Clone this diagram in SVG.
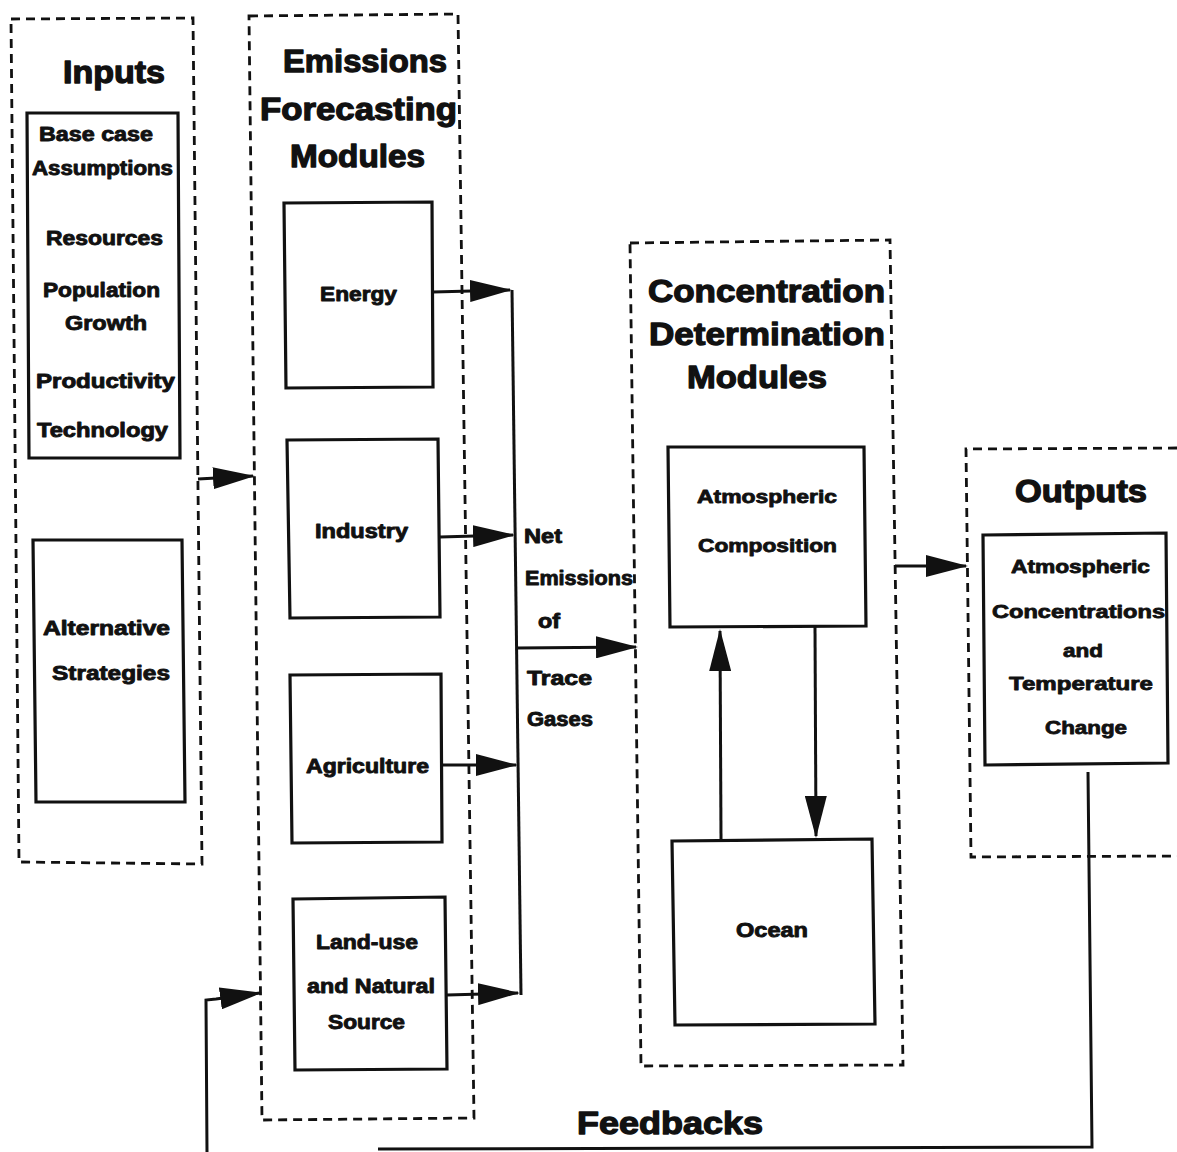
<svg xmlns="http://www.w3.org/2000/svg" width="1177" height="1152" viewBox="0 0 1177 1152">
<defs>
<style>
.bg{fill:#fff}
.dash{fill:none;stroke:#111;stroke-width:2.8;stroke-dasharray:9 6}
.box{fill:none;stroke:#111;stroke-width:3.2}
.con{fill:none;stroke:#111;stroke-width:3}
.t{font-family:"Liberation Sans",Arial,sans-serif;font-weight:700;fill:#111;stroke:#111;stroke-linejoin:round}
.title{font-size:32px;stroke-width:1.3}
.body{font-size:20px;stroke-width:0.9}
.small{font-size:18px;stroke-width:0.8}
</style>
<marker id="ah" markerUnits="userSpaceOnUse" markerWidth="44" markerHeight="22" viewBox="0 0 44 22" refX="40" refY="11" orient="auto">
<path d="M0,0 L42,11 L0,22 Z" fill="#111"/>
</marker>
</defs>
<rect class="bg" x="0" y="0" width="1177" height="1152"/>

<g id="inputs">
<path class="dash" d="M11,19 L193,18 L202,864 L19,862 Z"/>
<text class="t title" x="63" y="83" textLength="102" lengthAdjust="spacingAndGlyphs">Inputs</text>
<g id="base-case">
<path class="box" d="M27,113 L178,113 L180,458 L29,458 Z"/>
<text class="t body" x="39" y="141" textLength="114" lengthAdjust="spacingAndGlyphs">Base case</text>
<text class="t body" x="32" y="175" textLength="141" lengthAdjust="spacingAndGlyphs">Assumptions</text>
<text class="t body" x="46" y="245" textLength="117" lengthAdjust="spacingAndGlyphs">Resources</text>
<text class="t body" x="43" y="297" textLength="117" lengthAdjust="spacingAndGlyphs">Population</text>
<text class="t body" x="65" y="330" textLength="82" lengthAdjust="spacingAndGlyphs">Growth</text>
<text class="t body" x="36" y="388" textLength="139" lengthAdjust="spacingAndGlyphs">Productivity</text>
<text class="t body" x="37" y="437" textLength="131" lengthAdjust="spacingAndGlyphs">Technology</text>
</g>
<g id="alternative">
<path class="box" d="M33,540 L182,540 L185,802 L36,802 Z"/>
<text class="t body" x="43" y="635" textLength="127" lengthAdjust="spacingAndGlyphs">Alternative</text>
<text class="t body" x="52" y="680" textLength="118" lengthAdjust="spacingAndGlyphs">Strategies</text>
</g>
</g>

<g id="emissions">
<path class="dash" d="M249,16 L458,14 L474,1118 L262,1120 Z"/>
<text class="t title" x="283" y="72" textLength="164" lengthAdjust="spacingAndGlyphs">Emissions</text>
<text class="t title" x="260" y="120" textLength="197" lengthAdjust="spacingAndGlyphs">Forecasting</text>
<text class="t title" x="290" y="167" textLength="135" lengthAdjust="spacingAndGlyphs">Modules</text>
<g id="energy">
<path class="box" d="M284,203 L432,202 L433,387 L286,388 Z"/>
<text class="t body" x="320" y="301" textLength="77" lengthAdjust="spacingAndGlyphs">Energy</text>
</g>
<g id="industry">
<path class="box" d="M287,440 L438,439 L440,617 L290,618 Z"/>
<text class="t body" x="315" y="538" textLength="93" lengthAdjust="spacingAndGlyphs">Industry</text>
</g>
<g id="agriculture">
<path class="box" d="M290,675 L441,674 L442,842 L292,843 Z"/>
<text class="t body" x="306" y="773" textLength="123" lengthAdjust="spacingAndGlyphs">Agriculture</text>
</g>
<g id="land-use">
<path class="box" d="M293,899 L445,897 L447,1069 L295,1070 Z"/>
<text class="t body" x="316" y="949" textLength="102" lengthAdjust="spacingAndGlyphs">Land-use</text>
<text class="t body" x="307" y="993" textLength="128" lengthAdjust="spacingAndGlyphs">and Natural</text>
<text class="t body" x="328" y="1029" textLength="77" lengthAdjust="spacingAndGlyphs">Source</text>
</g>
</g>

<g id="net-emissions-label">
<text class="t body" x="524" y="543" textLength="38" lengthAdjust="spacingAndGlyphs">Net</text>
<text class="t body" x="525" y="585" textLength="108" lengthAdjust="spacingAndGlyphs">Emissions</text>
<text class="t body" x="538" y="628" textLength="22" lengthAdjust="spacingAndGlyphs">of</text>
<text class="t body" x="527" y="685" textLength="65" lengthAdjust="spacingAndGlyphs">Trace</text>
<text class="t body" x="527" y="726" textLength="66" lengthAdjust="spacingAndGlyphs">Gases</text>
</g>

<g id="concentration">
<path class="dash" d="M630,243 L890,240 L903,1065 L641,1066 Z"/>
<text class="t title" x="648" y="302" textLength="237" lengthAdjust="spacingAndGlyphs">Concentration</text>
<text class="t title" x="649" y="345" textLength="236" lengthAdjust="spacingAndGlyphs">Determination</text>
<text class="t title" x="687" y="388" textLength="140" lengthAdjust="spacingAndGlyphs">Modules</text>
<g id="atmospheric-composition">
<path class="box" d="M668,447 L864,447 L866,626 L670,627 Z"/>
<text class="t small" x="697" y="503" textLength="140" lengthAdjust="spacingAndGlyphs">Atmospheric</text>
<text class="t small" x="698" y="552" textLength="139" lengthAdjust="spacingAndGlyphs">Composition</text>
</g>
<g id="ocean">
<path class="box" d="M672,841 L872,839 L875,1024 L675,1025 Z"/>
<text class="t body" x="736" y="937" textLength="72" lengthAdjust="spacingAndGlyphs">Ocean</text>
</g>
</g>

<g id="outputs">
<path class="dash" d="M1177,448 L966,449 L971,857 L1177,856"/>
<text class="t title" x="1015" y="502" textLength="132" lengthAdjust="spacingAndGlyphs">Outputs</text>
<g id="outputs-box">
<path class="box" d="M983,535 L1166,533 L1168,763 L985,765 Z"/>
<text class="t small" x="1011" y="573" textLength="139" lengthAdjust="spacingAndGlyphs">Atmospheric</text>
<text class="t small" x="992" y="618" textLength="173" lengthAdjust="spacingAndGlyphs">Concentrations</text>
<text class="t small" x="1063" y="657" textLength="40" lengthAdjust="spacingAndGlyphs">and</text>
<text class="t small" x="1009" y="690" textLength="144" lengthAdjust="spacingAndGlyphs">Temperature</text>
<text class="t small" x="1045" y="734" textLength="82" lengthAdjust="spacingAndGlyphs">Change</text>
</g>
</g>

<text id="feedbacks-label" class="t title" x="577" y="1134" textLength="186" lengthAdjust="spacingAndGlyphs">Feedbacks</text>

<g id="connectors">
<path class="con" d="M198,479 L253,476" marker-end="url(#ah)"/>
<path class="con" d="M433,292 L510,290" marker-end="url(#ah)"/>
<path class="con" d="M440,537 L513,535" marker-end="url(#ah)"/>
<path class="con" d="M442,765 L516,765" marker-end="url(#ah)"/>
<path class="con" d="M447,995 L518,993" marker-end="url(#ah)"/>
<path class="con" d="M512,290 L521,995"/>
<path class="con" d="M517,648 L636,647" marker-end="url(#ah)"/>
<path class="con" d="M721,840 L720,631" marker-end="url(#ah)"/>
<path class="con" d="M815,627 L816,836" marker-end="url(#ah)"/>
<path class="con" d="M895,566 L966,566" marker-end="url(#ah)"/>
<path class="con" d="M1088,772 L1092,1147 L378,1149"/>
<path class="con" d="M207,1152 L206,1000 L216,999 L260,993" marker-end="url(#ah)"/>
</g>
</svg>
